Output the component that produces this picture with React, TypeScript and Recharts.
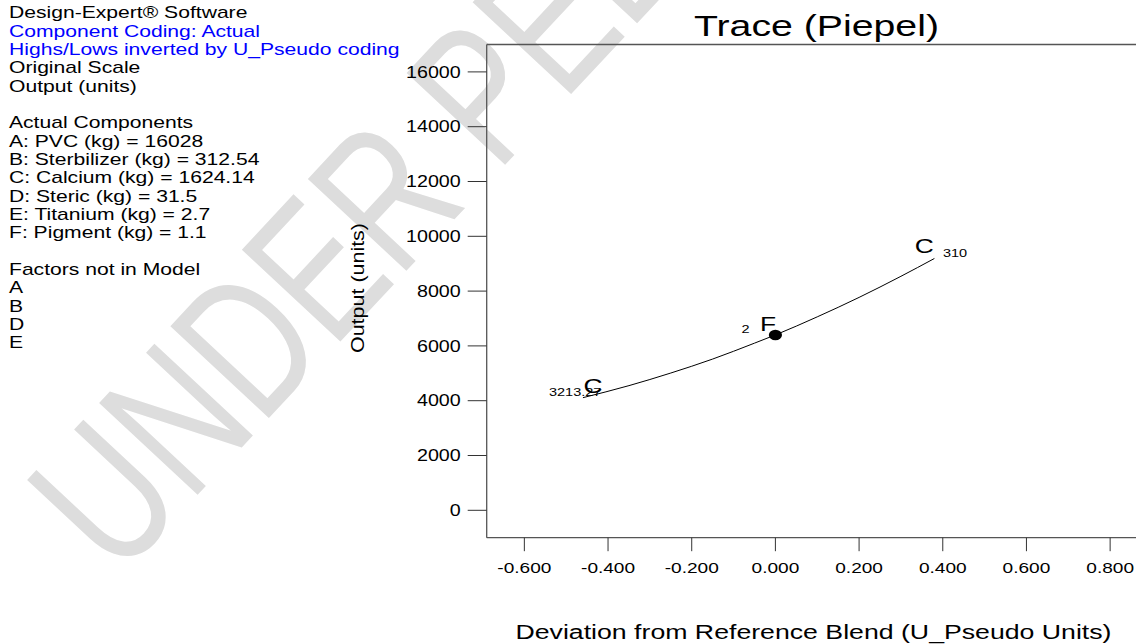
import React from 'react';
import { ComposedChart, Line, Scatter, XAxis, YAxis, ReferenceLine } from 'recharts';

// ---- data ----
const curveX = [-0.46, -0.35, -0.25, -0.15, -0.05, 0, 0.1, 0.2, 0.3, 0.38];
const curveY = [4110, 4550, 5010, 5520, 6100, 6400, 7060, 7770, 8540, 9190];
const markerX = [-0.46, 0, 0.38];
const markerY = [4110, 6400, 9190];
const markerName = ['C', 'F', 'C'];
const markerSub = ['3213.27', '2', '310'];
const xTicks = [-0.6, -0.4, -0.2, 0, 0.2, 0.4, 0.6, 0.8];
const yTicks = [0, 2000, 4000, 6000, 8000, 10000, 12000, 14000, 16000];
const xDomain = [-0.69, 0.885];
const yDomain = [-1000, 17000];
const infoLines = [
  'Design-Expert® Software',
  'Component Coding: Actual',
  'Highs/Lows inverted by U_Pseudo coding',
  'Original Scale',
  'Output (units)',
  '',
  'Actual Components',
  'A: PVC (kg) = 16028',
  'B: Sterbilizer (kg) = 312.54',
  'C: Calcium (kg) = 1624.14',
  'D: Steric (kg) = 31.5',
  'E: Titanium (kg) = 2.7',
  'F: Pigment (kg) = 1.1',
  '',
  'Factors not in Model',
  'A',
  'B',
  'D',
  'E',
];
const blueLines = [1, 2];
const titleText = 'Trace (Piepel)';
const xLabel = 'Deviation from Reference Blend (U_Pseudo Units)';
const yLabel = 'Output (units)';
const watermark = 'UNDER PEER REVIEW';

// ---- styles ----
const FONT = '"Liberation Sans", Arial, sans-serif';
const SX = 1.32;
const TICK_SX = 1.23;
const markerLayout = [
  { dot: false, main: { dx: 0.5, dy: -4.7 }, sub: { dx: -34, dy: -2 } },
  { dot: true, main: { dx: -15.5, dy: -4.3 }, sub: { dx: -34, dy: -1.7 } },
  { dot: false, main: { dx: -19.6, dy: -5 }, sub: { dx: 8.5, dy: -1.7 } },
];

const curveData = curveX.map((x, i) => ({ x, y: curveY[i] }));
const markerData = markerX.map((x, i) => ({ x, y: markerY[i], name: markerName[i], sub: markerSub[i], idx: i }));

const XTick = (props: any) => {
  const { x, y, payload } = props;
  return (
    <text transform={`translate(${x},${y + 21.3}) scale(${TICK_SX},1)`} textAnchor="middle" fontSize={15.5} fill="#000" fontFamily={FONT}>
      {Number(payload.value).toFixed(3)}
    </text>
  );
};

const YTick = (props: any) => {
  const { x, y, payload } = props;
  return (
    <text transform={`translate(${x},${y}) scale(${TICK_SX},1)`} textAnchor="end" dy="0.36em" fontSize={16} fill="#000" fontFamily={FONT}>
      {String(payload.value)}
    </text>
  );
};

const MarkerShape = (props: any) => {
  const { cx, cy, payload } = props;
  const lay = markerLayout[payload.idx];
  return (
    <g>
      {lay.dot && <ellipse cx={cx} cy={cy} rx={6.6} ry={5.3} fill="#000" />}
      <text transform={`translate(${cx + lay.sub.dx},${cy + lay.sub.dy}) scale(${SX},1)`} fontSize={11} fill="#000" fontFamily={FONT}>
        {payload.sub}
      </text>
      <text transform={`translate(${cx + lay.main.dx},${cy + lay.main.dy}) scale(${SX},1)`} fontSize={20} fill="#000" fontFamily={FONT}>
        {payload.name}
      </text>
    </g>
  );
};

export default function App() {
  return (
    <div style={{ position: 'fixed', left: 0, top: 0, width: 1136, height: 644, overflow: 'hidden', background: '#fff', fontFamily: FONT }}>
      <svg width={1136} height={644} style={{ position: 'absolute', left: 0, top: 0 }}>
        <text
          transform="translate(118,580) rotate(-47) scale(1,1.35)"
          fontSize={145}
          fill="#dddddd"
          fontFamily={FONT}
        >
          {watermark}
        </text>
      </svg>
      <div style={{ position: 'absolute', left: 0, top: 0 }}>
        <ComposedChart
          width={1150}
          height={644}
          data={curveData}
          margin={{ top: 44.5, right: 4.3, bottom: 46.3, left: 406.7 }}
        >
          <XAxis
            dataKey="x"
            type="number"
            domain={xDomain}
            ticks={xTicks}
            allowDataOverflow
            height={60}
            tickSize={13.5}
            tickMargin={0}
            tick={<XTick />}
            tickLine={{ stroke: '#333', strokeWidth: 1 }}
            axisLine={{ stroke: '#555', strokeWidth: 1.3 }}
          />
          <YAxis
            type="number"
            domain={yDomain}
            ticks={yTicks}
            allowDataOverflow
            width={80}
            tickSize={19}
            tickMargin={7}
            tick={<YTick />}
            tickLine={{ stroke: '#333', strokeWidth: 1 }}
            axisLine={{ stroke: '#555', strokeWidth: 1.3 }}
          />
          <ReferenceLine y={17000} stroke="#555" strokeWidth={1.3} />
          <ReferenceLine x={0.885} stroke="#555" strokeWidth={1.3} />
          <Line dataKey="y" type="monotone" stroke="#000" strokeWidth={1} dot={false} isAnimationActive={false} />
          <Scatter data={markerData} dataKey="y" shape={<MarkerShape />} isAnimationActive={false} />
        </ComposedChart>
      </div>
      <svg width={1136} height={644} style={{ position: 'absolute', left: 0, top: 0, pointerEvents: 'none' }} fontFamily={FONT}>
        {infoLines.map((t, i) =>
          t ? (
            <text
              key={i}
              transform={`translate(9,${18.4 + 18.33 * i}) scale(${SX},1)`}
              fontSize={16}
              fill={blueLines.includes(i) ? '#0000ff' : '#000'}
            >
              {t}
            </text>
          ) : null
        )}
        <text x={694} y={36} fontSize={29} textLength={245} lengthAdjust="spacingAndGlyphs" fill="#000">
          {titleText}
        </text>
        <text x={515.5} y={639} fontSize={20} textLength={596} lengthAdjust="spacingAndGlyphs" fill="#000">
          {xLabel}
        </text>
        <text
          transform="translate(364,288) rotate(-90)"
          textAnchor="middle"
          fontSize={19}
          textLength={130}
          lengthAdjust="spacingAndGlyphs"
          fill="#000"
        >
          {yLabel}
        </text>
      </svg>
    </div>
  );
}
